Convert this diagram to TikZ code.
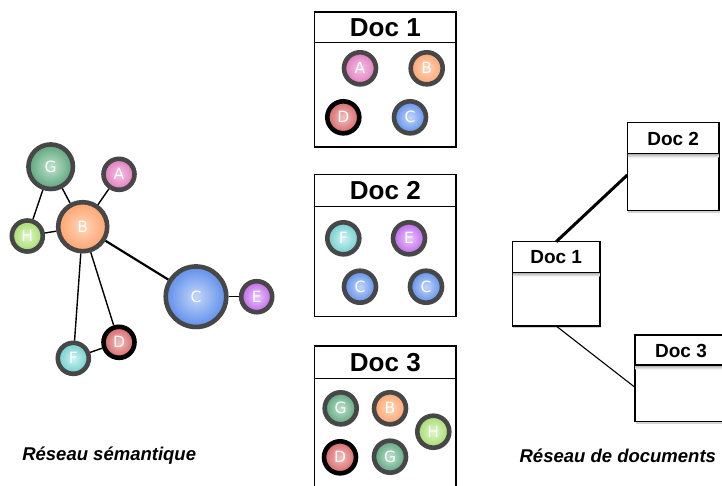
\documentclass[tikz,border=0pt]{standalone}
\usepackage{fontspec}
\setmainfont{Liberation Sans}
\newfontfamily\letterfont{DejaVu Sans}
\usetikzlibrary{shadows,calc,backgrounds}
\definecolor{ring}{HTML}{474747}
\definecolor{cA}{HTML}{E07ABD}\definecolor{lA}{HTML}{F6C4E4}
\definecolor{cB}{HTML}{FFA46E}\definecolor{lB}{HTML}{FFD6BC}
\definecolor{cC}{HTML}{5E8FEA}\definecolor{lC}{HTML}{C4D6FA}
\definecolor{cD}{HTML}{D46666}\definecolor{lD}{HTML}{F4C0C0}
\definecolor{cE}{HTML}{BE66EA}\definecolor{lE}{HTML}{EACAFA}
\definecolor{cF}{HTML}{70CCCC}\definecolor{lF}{HTML}{CFF3F3}
\definecolor{cG}{HTML}{5DA47C}\definecolor{lG}{HTML}{BFE3CE}
\definecolor{cH}{HTML}{A4DC6C}\definecolor{lH}{HTML}{E0F6CA}
\tikzset{
  ball/.style={circle, draw=ring, line width=4.6pt, inner sep=0pt,
    shading=radial, inner color=l#1, outer color=c#1,
    text=white, font=\letterfont\fontsize{15.5}{15.5}\selectfont,
    drop shadow={opacity=0.25, shadow xshift=1pt, shadow yshift=-2.5pt}},
  sm/.style={minimum size=31pt},
  dk/.style={draw=black},
  sedge/.style={line width=1.4pt, black},
  midbox/.style={draw=black, line width=1.2pt, fill=white, outer sep=0pt, inner sep=0pt},
  midtitle/.style={font=\bfseries\fontsize{26}{26}\selectfont, inner sep=0pt},
  netbox/.style={draw=black, line width=1.2pt, fill=white, outer sep=0pt, inner sep=0pt,
    drop shadow={opacity=0.35, shadow xshift=1pt, shadow yshift=-2pt}},
  nettitle/.style={font=\bfseries\fontsize{19}{19}\selectfont, inner sep=0pt},
  caption/.style={font=\bfseries\itshape\fontsize{18.5}{18.5}\selectfont, inner sep=0pt},
}
\begin{document}
\begin{tikzpicture}[x=1pt,y=-1pt]
\clip (0,0) rectangle (722,485);
\fill[white] (0,0) rectangle (722,485);

% ---------- semantic network ----------
\node[ball=G, minimum size=44.5pt] (G) at (50.7,166.7) {G};
\node[ball=A, sm] (A) at (119,174.3) {A};
\node[ball=B, minimum size=49pt] (B) at (82.7,226.7) {B};
\node[ball=H, sm] (H) at (27.3,236) {H};
\node[ball=C, minimum size=60.5pt] (C) at (196,296.7) {C};
\node[ball=E, sm] (E) at (256.7,296.7) {E};
\node[ball=D, sm, dk] (D) at (119,342.3) {D};
\node[ball=F, sm] (F) at (73.3,358.3) {F};
\draw[sedge] (G) -- (H);
\draw[sedge] (G) -- (B);
\draw[sedge] (A) -- (B);
\draw[sedge] (H) -- (B);
\draw[sedge, line width=2.2pt] (B) -- (C);
\draw[sedge] (C) -- (E);
\draw[sedge] (B) -- (F);
\draw[sedge] (B) -- (D);
\draw[sedge] (F) -- (D);
\node[caption] (cap1) at (109.2,455.5) {Réseau sémantique};

% ---------- documents ----------
\node[midbox, minimum width=141.3pt, minimum height=135pt] (m1) at (385.35,79.5) {};
\draw[line width=1.2pt] ($(m1.north west)+(0,30.3)$) -- ($(m1.north east)+(0,30.3)$);
\node[midtitle] (m1t) at (385.35,27.4) {Doc 1};
\node[ball=A, minimum size=32pt] (m1a) at (360,68.3) {A};
\node[ball=B, minimum size=32pt] (m1b) at (426.7,68.3) {B};
\node[ball=D, minimum size=32pt, dk] (m1d) at (343.3,117.3) {D};
\node[ball=C, minimum size=32pt] (m1c) at (410,117.3) {C};

\node[midbox, minimum width=141.3pt, minimum height=142pt] (m2) at (385.35,245.7) {};
\draw[line width=1.2pt] ($(m2.north west)+(0,32)$) -- ($(m2.north east)+(0,32)$);
\node[midtitle] (m2t) at (385.35,191) {Doc 2};
\node[ball=F, minimum size=32pt] (m2f) at (343.3,238.3) {F};
\node[ball=E, minimum size=32pt] (m2e) at (409,238.3) {E};
\node[ball=C, minimum size=32pt] (m2c1) at (360,286.7) {C};
\node[ball=C, minimum size=32pt] (m2c2) at (426,286.7) {C};

\node[midbox, minimum width=141.3pt, minimum height=154pt] (m3) at (385.35,423) {};
\draw[line width=1.2pt] ($(m3.north west)+(0,32.3)$) -- ($(m3.north east)+(0,32.3)$);
\node[midtitle] (m3t) at (385.35,362.5) {Doc 3};
\node[ball=G, minimum size=32pt] (m3g1) at (340.7,408.3) {G};
\node[ball=B, minimum size=32pt] (m3b) at (390,408.3) {B};
\node[ball=H, minimum size=32pt] (m3h) at (433.3,431.7) {H};
\node[ball=D, minimum size=32pt, dk] (m3d) at (340,457.3) {D};
\node[ball=G, minimum size=32pt] (m3g2) at (390,456.7) {G};

% ---------- document network ----------
\node[netbox, minimum width=91.7pt, minimum height=88.4pt] (r2) at (673.15,166.5) {};
\fill[top color=black!30, bottom color=white] ($(r2.north west)+(0.6,31.6)$) rectangle ($(r2.north east)+(-0.6,35.5)$);
\draw[line width=1.2pt] ($(r2.north west)+(0,31)$) -- ($(r2.north east)+(0,31)$);
\node[nettitle] (r2t) at (673.15,138.5) {Doc 2};

\node[netbox, minimum width=87.7pt, minimum height=84.3pt] (r1) at (556.15,283.85) {};
\fill[top color=black!30, bottom color=white] ($(r1.north west)+(0.6,31.2)$) rectangle ($(r1.north east)+(-0.6,35)$);
\draw[line width=1.2pt] ($(r1.north west)+(0,30.6)$) -- ($(r1.north east)+(0,30.6)$);
\node[nettitle] (r1t) at (556.15,257.5) {Doc 1};

\node[netbox, minimum width=92pt, minimum height=86.7pt] (r3) at (681,378.35) {};
\fill[top color=black!30, bottom color=white] ($(r3.north west)+(0.6,30.6)$) rectangle ($(r3.north east)+(-0.6,34.5)$);
\draw[line width=1.2pt] ($(r3.north west)+(0,30)$) -- ($(r3.north east)+(0,30)$);
\node[nettitle] (r3t) at (681,350.5) {Doc 3};

\draw[line width=3pt] (r1.north) -- ($(r2.west)+(0,8.5)$);
\draw[line width=1.1pt] (r1.south) -- ($(r3.west)+(0,9)$);

\node[caption] (cap2) at (617.8,455.5) {Réseau de documents};
\end{tikzpicture}
\end{document}
